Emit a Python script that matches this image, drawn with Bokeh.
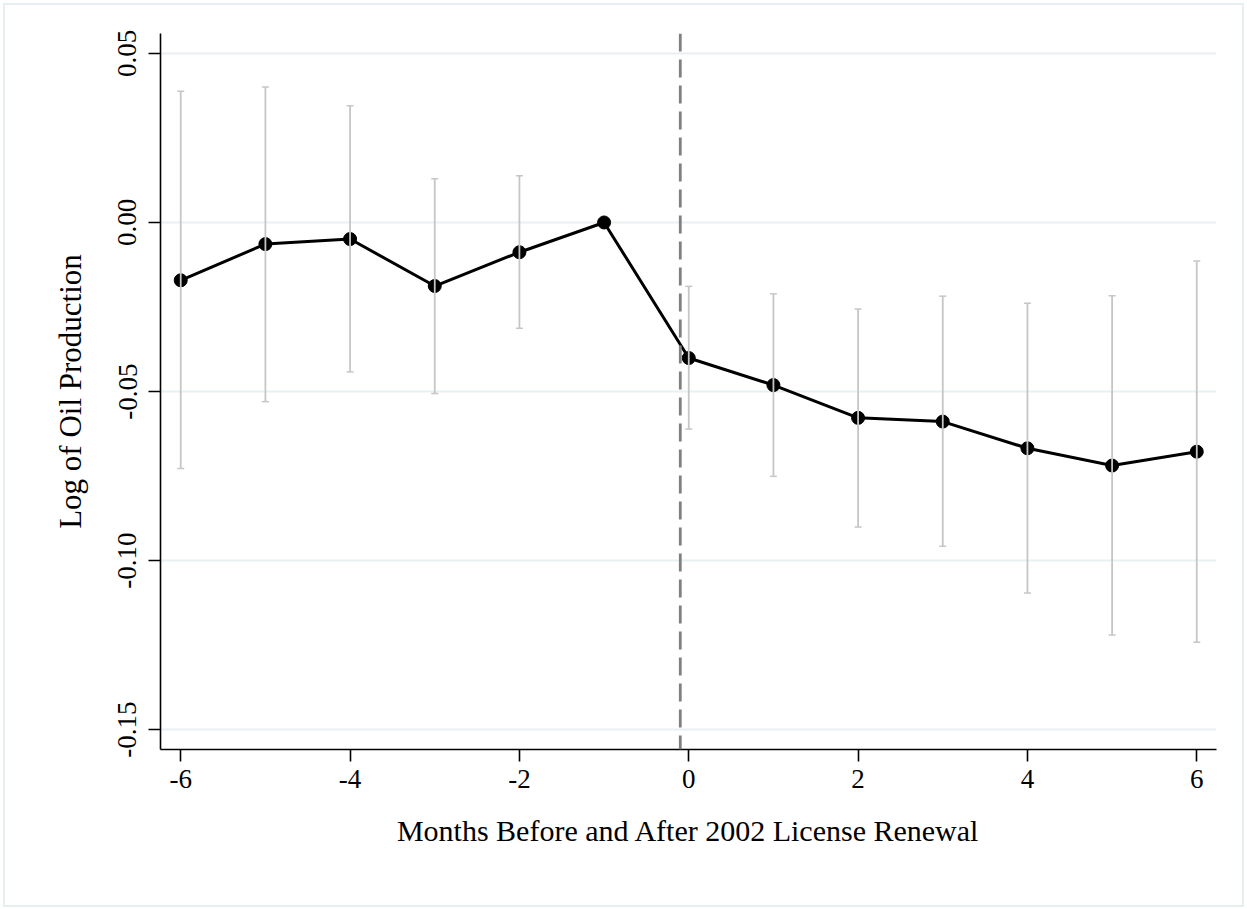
import math
from bokeh.plotting import figure
from bokeh.models import Range1d, Span, Whisker, TeeHead, ColumnDataSource, FixedTicker
from bokeh.embed import file_html
from bokeh.resources import INLINE

# ---- data ----
months = [-6, -5, -4, -3, -2, -1, 0, 1, 2, 3, 4, 5, 6]
coef = [-0.0171, -0.0064, -0.0049, -0.0188, -0.0088, 0.0000,
        -0.0401, -0.0481, -0.0578, -0.0589, -0.0668, -0.0719, -0.0678]
ci_upper = [0.0388, 0.0401, 0.0345, 0.0129, 0.0138, float("nan"),
            -0.0189, -0.0211, -0.0256, -0.0218, -0.0239, -0.0217, -0.0114]
ci_lower = [-0.0728, -0.0530, -0.0442, -0.0506, -0.0313, float("nan"),
            -0.0611, -0.0751, -0.0901, -0.0958, -0.1096, -0.1220, -0.1242]
event_line = -0.1
x_ticks = [-6, -4, -2, 0, 2, 4, 6]
x_tick_labels = ["-6", "-4", "-2", "0", "2", "4", "6"]
y_ticks = [-0.15, -0.10, -0.05, 0.00, 0.05]
y_tick_labels = ["-0.15", "-0.10", "-0.05", "0.00", "0.05"]
x_title = "Months Before and After 2002 License Renewal"
y_title = "Log of Oil Production"

FONT = "Liberation Serif"

p = figure(width=1237, height=900, output_backend="svg", toolbar_location=None,
           x_range=Range1d(-6.239, 6.233), y_range=Range1d(-0.1559, 0.0559))
p.min_border_left = 155
p.min_border_right = 26
p.min_border_top = 28
p.min_border_bottom = 156
p.outline_line_color = None
p.background_fill_color = "white"
p.border_fill_color = "white"
p.styles = {"margin-left": "5px", "margin-top": "5px",
            "outline": "2px solid #e7eff1", "outline-offset": "0px"}

# grid
p.xgrid.visible = False
p.ygrid.ticker = FixedTicker(ticks=y_ticks)
p.ygrid.grid_line_color = "#e8f0f1"
p.ygrid.grid_line_width = 2

# axes
for ax in (p.xaxis, p.yaxis):
    ax.axis_line_color = "black"
    ax.axis_line_width = 1.6
    ax.major_tick_line_color = "black"
    ax.major_tick_line_width = 1.6
    ax.major_tick_out = 12
    ax.major_tick_in = 0
    ax.minor_tick_line_color = None
    ax.major_label_text_font = FONT
    ax.major_label_text_font_size = "27px"
    ax.major_label_text_color = "black"
    ax.axis_label_text_font = FONT
    ax.axis_label_text_font_style = "normal"
    ax.axis_label_text_color = "black"

p.xaxis.ticker = FixedTicker(ticks=x_ticks)
p.xaxis.major_label_overrides = {t: l for t, l in zip(x_ticks, x_tick_labels)}
p.xaxis.major_label_standoff = 8
p.xaxis.axis_label = x_title
p.xaxis.axis_label_text_font_size = "30px"
p.xaxis.axis_label_standoff = 23

p.yaxis.ticker = FixedTicker(ticks=y_ticks)
p.yaxis.major_label_overrides = {t: l for t, l in zip(y_ticks, y_tick_labels)}
p.yaxis.major_label_orientation = "vertical"
p.yaxis.major_label_standoff = 12
p.yaxis.axis_label = y_title
p.yaxis.axis_label_text_font_size = "31px"
p.yaxis.axis_label_standoff = 28

# vertical event line
p.add_layout(Span(location=event_line, dimension="height", line_color="#808080",
                  line_width=2.8, line_dash="18 8"))

# main line and points
p.line(months, coef, line_color="black", line_width=3)
p.scatter(months, coef, marker="circle", size=13, fill_color="black", line_color="black")

# error bars (on top of markers)
keep = [i for i in range(len(months)) if not math.isnan(ci_upper[i])]
src = ColumnDataSource(data=dict(
    x=[months[i] for i in keep],
    hi=[ci_upper[i] for i in keep],
    lo=[ci_lower[i] for i in keep],
))
wh = Whisker(base="x", upper="hi", lower="lo", source=src, dimension="height",
             line_color="#c6c6c6", line_width=1.8, level="overlay",
             upper_head=TeeHead(size=7, line_color="#c6c6c6", line_width=1.5),
             lower_head=TeeHead(size=7, line_color="#c6c6c6", line_width=1.5))
p.add_layout(wh)

open("out.html", "w").write(file_html(p, INLINE))
